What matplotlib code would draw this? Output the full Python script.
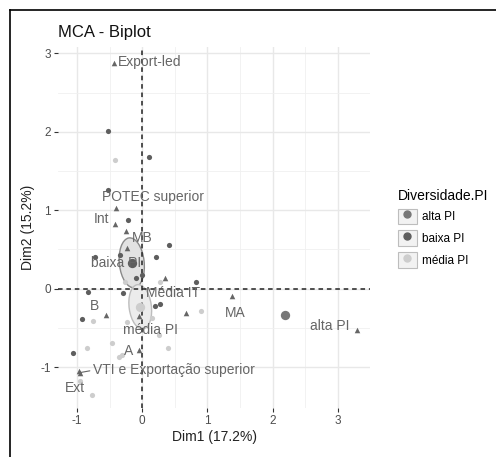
import numpy as np
import matplotlib.pyplot as plt
from matplotlib.patches import Ellipse, Rectangle
from matplotlib.lines import Line2D

plt.rcParams['font.family'] = ['Liberation Sans', 'DejaVu Sans']
plt.rcParams['axes.unicode_minus'] = False

# individuals (circles), coloured by group
ind_x = [-0.52, 0.11, -0.52, -0.21, 0.41, -0.72, -0.34, 0.21, -0.09, 0.00, 0.83,
         -0.83, -0.29, 0.20, 0.28, -0.92, -1.06,
         -0.41, -0.26, 0.28, 0.90, 0.15, -0.76, -0.23, 0.26, -0.47, -0.84, 0.40,
         -0.35, -0.31, -0.96, -0.77,
         2.19]
ind_y = [2.01, 1.68, 1.26, 0.88, 0.56, 0.41, 0.43, 0.41, 0.14, 0.18, 0.09,
         -0.04, -0.06, -0.22, -0.19, -0.38, -0.82,
         1.64, 0.09, 0.08, -0.28, -0.37, -0.41, -0.42, -0.59, -0.69, -0.75, -0.75,
         -0.87, -0.85, -1.18, -1.35,
         -0.33]
ind_grp = ['baixa PI'] * 17 + ['média PI'] * 15 + ['alta PI']

groups = ['alta PI', 'baixa PI', 'média PI']
grp_colors = {'alta PI': '#777777', 'baixa PI': '#5e5e5e', 'média PI': '#cdcdcd'}
grp_mean_x = [2.19, -0.16, -0.03]
grp_mean_y = [-0.33, 0.33, -0.23]
ell_w = [0.0, 0.38, 0.34]
ell_h = [0.0, 0.64, 0.57]
ell_angle = [0, 8, 10]

# variable categories (triangles)
cat_names = ['Export-led', 'POTEC superior', 'Int', 'MB', '', 'Média IT', 'MA', '',
             'alta PI', 'B', 'média PI', 'A', 'VTI e Exportação superior', 'Ext']
cat_x = [-0.43, -0.40, -0.41, -0.25, -0.23, 0.35, 1.38, 0.67, 3.29, -0.55, -0.05, -0.05, -0.96, -0.97]
cat_y = [2.88, 1.03, 0.83, 0.74, 0.52, 0.14, -0.09, -0.31, -0.52, -0.33, -0.35, -0.78, -1.07, -1.05]
lab_x = [-0.37, 0.16, -0.63, 0.00, 0, 0.48, 1.42, 0, 2.88, -0.73, 0.12, -0.21, 0.48, -1.03]
lab_y = [2.89, 1.17, 0.89, 0.64, 0, -0.06, -0.31, 0, -0.47, -0.22, -0.52, -0.80, -1.04, -1.27]

fig = plt.figure(figsize=(4.96, 4.57), dpi=100)
ax = fig.add_axes([58 / 496, 49 / 457, 312 / 496, 361 / 457])

# ellipses + group means
for g, mx, my, w, h, a in zip(groups, grp_mean_x, grp_mean_y, ell_w, ell_h, ell_angle):
    if w > 0:
        edge = '#8a8a8a' if g == 'baixa PI' else '#bdbdbd'
        face = '#e2e2e2' if g == 'baixa PI' else '#ececec'
        ax.add_patch(Ellipse((mx, my), w, h, angle=a, facecolor=face,
                             edgecolor=edge, lw=1.0, zorder=2))
    ax.scatter(mx, my, s=45, color=grp_colors[g], zorder=4, linewidths=0)

for x, y, g in zip(ind_x, ind_y, ind_grp):
    ax.scatter(x, y, s=14, color=grp_colors[g], zorder=4, linewidths=0)

ax.axvline(0, color='#222222', ls=(0, (3, 2.5)), lw=1.1, zorder=3)
ax.axhline(0, color='#222222', ls=(0, (3, 2.5)), lw=1.1, zorder=3)

ax.scatter(cat_x, cat_y, marker='^', s=16, color='#666666', zorder=5, linewidths=0)
for name, cx, cy, lx, ly in zip(cat_names, cat_x, cat_y, lab_x, lab_y):
    if not name:
        continue
    if name.startswith('VTI'):
        ax.annotate(name, xy=(cx, cy), xytext=(lx, ly), ha='center', va='center',
                    fontsize=10, color='#666666', zorder=6,
                    arrowprops=dict(arrowstyle='-', color='#666666', lw=0.8,
                                    shrinkA=0, shrinkB=0, relpos=(0, 0.5)))
    elif name == 'Export-led':
        ax.text(lx, ly, name, ha='left', va='center', fontsize=10, color='#666666', zorder=6)
    else:
        ax.text(lx, ly, name, ha='center', va='center', fontsize=10, color='#666666', zorder=6)
ax.text(-0.40, 0.33, 'baixa PI', ha='center', va='center', fontsize=10, color='#666666', zorder=6)

ax.set_xlim(-1.29, 3.49)
ax.set_ylim(-1.52, 3.08)
ax.set_xticks([-1, 0, 1, 2, 3])
ax.set_yticks([-1, 0, 1, 2, 3])
ax.set_xticks([-0.5, 0.5, 1.5, 2.5], minor=True)
ax.set_yticks([-0.5, 0.5, 1.5, 2.5], minor=True)
ax.grid(True, which='major', color='#e8e8e8', lw=1.0, zorder=0)
ax.grid(True, which='minor', color='#f0f0f0', lw=0.6, zorder=0)
ax.set_axisbelow(True)
for s in ax.spines.values():
    s.set_visible(False)
ax.tick_params(which='major', length=3, color='#333333', labelcolor='#4d4d4d', labelsize=8.5, pad=2)
ax.tick_params(which='minor', length=0)
ax.set_xlabel('Dim1 (17.2%)', fontsize=10, color='#222222', labelpad=2)
ax.set_ylabel('Dim2 (15.2%)', fontsize=10, color='#222222', labelpad=4)
ax.set_title('MCA - Biplot', fontsize=12, loc='left', x=0.0, pad=7, color='#111111')

# legend
handles = []
for g in groups:
    box = Rectangle((0, 0), 1, 1, facecolor='#f2f2f2', edgecolor='#bdbdbd', lw=0.8)
    dot = Line2D([], [], marker='o', ls='', color=grp_colors[g], markersize=5)
    handles.append((box, dot))
leg = fig.legend(handles, groups, title='Diversidade.PI', loc='upper left',
                 bbox_to_anchor=(387 / 496, 1 - 178 / 457), frameon=False,
                 fontsize=8.5, title_fontsize=10, handlelength=1.6, handleheight=1.7,
                 handletextpad=0.5, labelspacing=0.5, alignment='left')

# frame lines on the left and top edges
fig.add_artist(Line2D([10 / 496, 10 / 496], [0, 1 - 10 / 457], color='black', lw=1.2))
fig.add_artist(Line2D([10 / 496, 1], [1 - 10 / 457, 1 - 10 / 457], color='black', lw=1.2))

fig.savefig('out.png', dpi=100)
